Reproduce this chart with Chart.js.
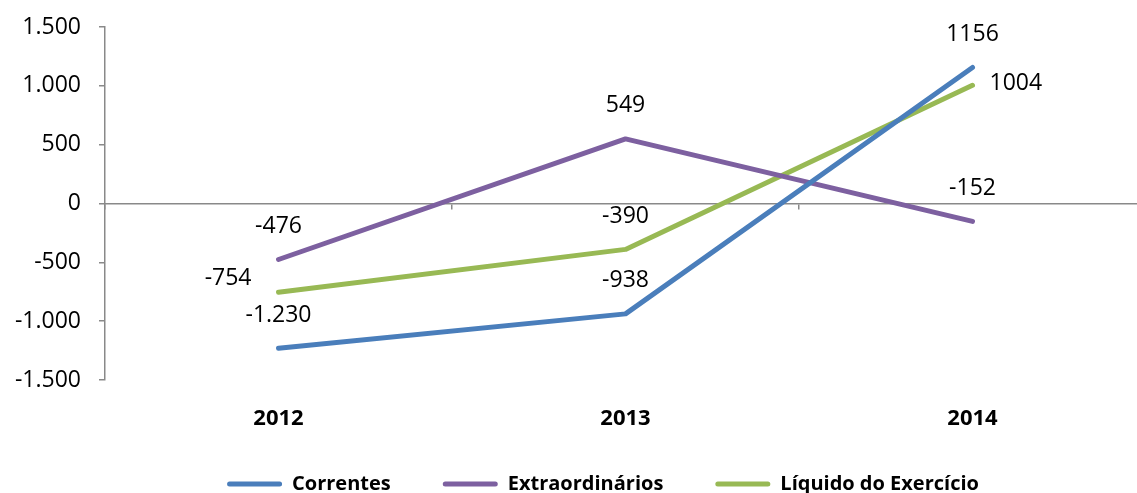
<!DOCTYPE html>
<html>
<head>
<meta charset="utf-8">
<script src="https://cdn.jsdelivr.net/npm/chart.js@4.4.1/dist/chart.umd.min.js"></script>
<style>
  html, body { margin: 0; padding: 0; overflow: hidden; background: #fff; }
  #wrap { width: 1146px; height: 493px; }
</style>
</head>
<body>
<div id="wrap"><canvas id="lineChart" width="1146" height="493"></canvas></div>
<script>
// --- data ---
const years = ['2012', '2013', '2014'];
const correntes = [-1230, -938, 1156];
const extraordinarios = [-476, 549, -152];
const liquido = [-754, -390, 1004];

// data label texts as printed on the chart
const correntesText = ['-1.230', '-938', '1156'];
const extraordinariosText = ['-476', '549', '-152'];
const liquidoText = ['-754', '-390', '1004'];

const axisGrey = '#898989';

// pt number format: 1.500, -1.000
function fmt(v) {
    const s = Math.abs(v).toString().replace(/\B(?=(\d{3})+(?!\d))/g, '.');
    return (v < 0 ? '-' : '') + s;
}

// draws value labels next to each point
const pointLabels = {
    id: 'pointLabels',
    afterDatasetsDraw(chart) {
        const ctx = chart.ctx;
        ctx.save();
        ctx.font = '23px "Open Sans"';
        ctx.fillStyle = '#000';
        ctx.textBaseline = 'middle';
        chart.data.datasets.forEach((ds, i) => {
            chart.getDatasetMeta(i).data.forEach((pt, j) => {
                const pos = ds.labelPos[j];
                const txt = ds.labelText[j];
                if (pos === 'left') {
                    ctx.textAlign = 'right';
                    ctx.fillText(txt, pt.x - 27, pt.y - 14);
                } else if (pos === 'right') {
                    ctx.textAlign = 'left';
                    ctx.fillText(txt, pt.x + 17, pt.y - 2);
                } else {
                    ctx.textAlign = 'center';
                    ctx.fillText(txt, pt.x, pt.y - 33);
                }
            });
        });
        ctx.restore();
    }
};

// legend sits right of the canvas centre and a bit higher than its box
const legendNudge = {
    id: 'legendNudge',
    afterLayout(chart) {
        const lg = chart.legend;
        lg.left += 30;
        lg.right += 30;
        lg.top -= 16;
        lg.bottom -= 16;
    }
};

const lineStyle = {
    borderWidth: 5,
    pointRadius: 0,
    pointHoverRadius: 0,
    borderCapStyle: 'round',
    borderJoinStyle: 'round',
    tension: 0,
    xAxisID: 'x'
};

const ctx = document.getElementById('lineChart').getContext('2d');
const lineChart = new Chart(ctx, {
    type: 'line',
    data: {
        labels: years,
        datasets: [
            Object.assign({
                label: 'Correntes',
                data: correntes,
                borderColor: '#4A7EBB',
                backgroundColor: '#4A7EBB',
                labelText: correntesText,
                labelPos: ['top', 'top', 'top']
            }, lineStyle),
            Object.assign({
                label: 'Extraordinários',
                data: extraordinarios,
                borderColor: '#7D60A0',
                backgroundColor: '#7D60A0',
                labelText: extraordinariosText,
                labelPos: ['top', 'top', 'top']
            }, lineStyle),
            Object.assign({
                label: 'Líquido do Exercício',
                data: liquido,
                borderColor: '#98B954',
                backgroundColor: '#98B954',
                labelText: liquidoText,
                labelPos: ['left', 'top', 'right']
            }, lineStyle)
        ]
    },
    options: {
        responsive: false,
        animation: false,
        devicePixelRatio: 1,
        layout: { padding: { top: 27, bottom: -27, left: 0, right: 0 } },
        plugins: {
            tooltip: { enabled: false },
            legend: {
                position: 'bottom',
                labels: {
                    boxWidth: 55,
                    boxHeight: 5,
                    padding: 52,
                    color: '#000',
                    font: { family: '"Open Sans"', size: 20, weight: 'bold' },
                    generateLabels(chart) {
                        return Chart.defaults.plugins.legend.labels.generateLabels(chart).map(l =>
                            Object.assign(l, { lineWidth: 0, fillStyle: l.strokeStyle, borderRadius: 2.5 }));
                    }
                }
            }
        },
        scales: {
            // axis line through zero with the category boundary ticks
            x: {
                type: 'category',
                position: { y: 0 },
                offset: true,
                grid: { offset: true, drawOnChartArea: false, drawTicks: true, tickLength: 5, color: axisGrey, lineWidth: 1.5 },
                border: { display: true, color: axisGrey, width: 1.5 },
                ticks: { display: false }
            },
            // year labels at the bottom
            x2: {
                type: 'category',
                labels: years,
                position: 'bottom',
                offset: true,
                grid: { display: false, drawTicks: false },
                border: { display: false },
                ticks: {
                    padding: 26,
                    color: '#000',
                    font: { family: '"Open Sans"', size: 22, weight: 'bold' }
                },
                afterFit: s => { s.height = 58; }
            },
            y: {
                min: -1500,
                max: 1500,
                grid: { drawOnChartArea: false, drawTicks: true, tickLength: 6, color: axisGrey, lineWidth: 1.5 },
                border: { display: true, color: axisGrey, width: 1.5 },
                ticks: {
                    stepSize: 500,
                    padding: 18,
                    color: '#000',
                    font: { family: '"Open Sans"', size: 23 },
                    callback: v => fmt(v)
                },
                afterFit: s => {
                    s.width = 105;
                    s.paddingTop = 0;
                    s.paddingBottom = 0;
                }
            }
        }
    },
    plugins: [pointLabels, legendNudge]
});
</script>
</body>
</html>
